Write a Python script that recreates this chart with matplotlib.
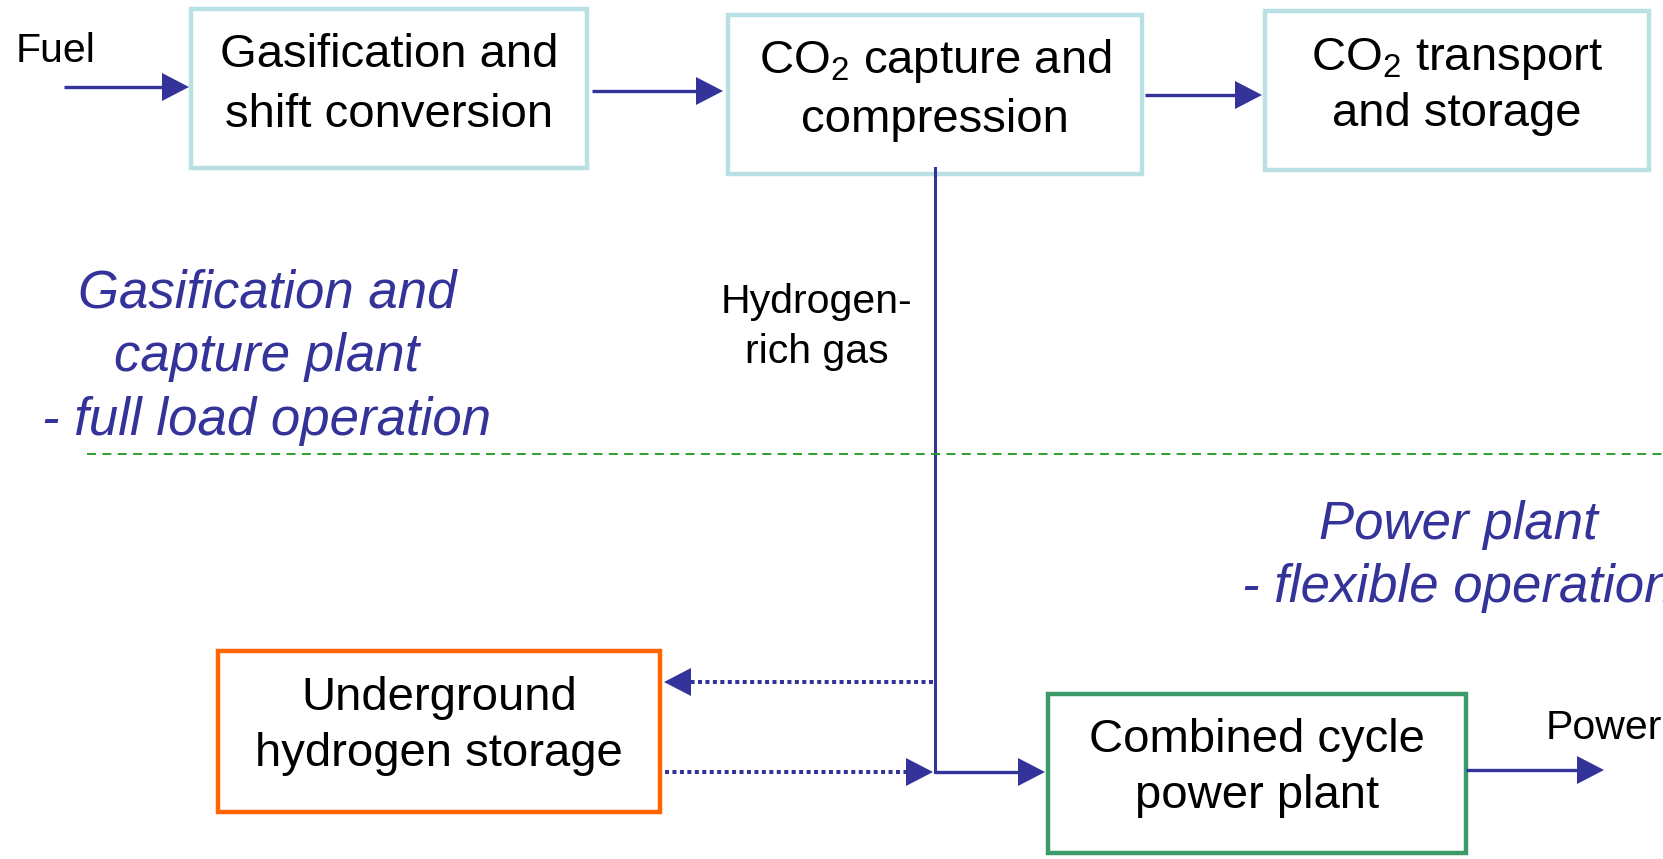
import matplotlib.pyplot as plt
from matplotlib.patches import Rectangle, Polygon

plt.rcParams['font.family'] = ['Liberation Sans', 'DejaVu Sans']
plt.rcParams['mathtext.fontset'] = 'custom'
plt.rcParams['mathtext.rm'] = 'Liberation Sans'
plt.rcParams['mathtext.it'] = 'Liberation Sans:italic'

W, H = 1663, 859
BLUE = '#333399'

# Process boxes: labels, outline colour
box_labels = [
    ["Gasification and", "shift conversion"],
    ["CO$_2$ capture and", "compression"],
    ["CO$_2$ transport", "and storage"],
    ["Underground", "hydrogen storage"],
    ["Combined cycle", "power plant"],
]
box_colors = ['#b9e0e2', '#b9e0e2', '#b9e0e2', '#ff6600', '#3a9a68']

# Box extents in pixels (left, top, right, bottom)
box_rects = [
    (191, 9, 587, 168),
    (728, 15, 1142, 174),
    (1265, 11, 1649, 170),
    (218, 651, 660, 812),
    (1048, 694, 1466, 853),
]
# Baselines of the two text lines in each box
box_baselines = [(67, 127), (73, 132), (70, 126), (710, 766), (752, 808)]

fig = plt.figure(figsize=(W / 100, H / 100), dpi=100)
ax = fig.add_axes([0, 0, 1, 1])
ax.set_xlim(0, W)
ax.set_ylim(H, 0)
ax.axis('off')


def arrow(x0, y0, x1, y1, ls='-', lw=2.4):
    # straight arrow with a filled triangular head at (x1, y1)
    L, hw = 27, 14
    dx, dy = x1 - x0, y1 - y0
    n = (dx ** 2 + dy ** 2) ** 0.5
    ux, uy = dx / n, dy / n
    bx, by = x1 - ux * L, y1 - uy * L
    ax.plot([x0, bx], [y0, by], color=BLUE, lw=lw, ls=ls, solid_capstyle='butt')
    ax.add_patch(Polygon([(x1, y1), (bx - uy * hw, by + ux * hw), (bx + uy * hw, by - ux * hw)],
                         closed=True, color=BLUE, lw=0))


for (l, t, r, b), col, lines, bls in zip(box_rects, box_colors, box_labels, box_baselines):
    ax.add_patch(Rectangle((l, t), r - l, b - t, fill=False, ec=col, lw=3.2))
    cx = (l + r) / 2
    for s, yb in zip(lines, bls):
        ax.text(cx, yb, s, ha='center', va='baseline', fontsize=34, color='black')

# flows
arrow(64, 87, 189, 87)
arrow(592, 91, 723, 91)
arrow(1145, 95, 1262, 95)
ax.plot([935, 935], [168, 772], color=BLUE, lw=2.2)
arrow(935, 772, 1045, 772)
arrow(933, 682, 664, 682, ls=(0, (1, 0.85)), lw=2.9)
arrow(665, 772, 933, 772, ls=(0, (1, 0.85)), lw=2.9)
arrow(1466, 770, 1604, 770)

# divider
ax.plot([87, W], [454, 454], color='#1a9a1a', lw=1.3, ls=(0, (5, 3.5)))

# labels
ax.text(16, 62, "Fuel", fontsize=29.5, va='baseline', ha='left')
ax.text(1546, 739, "Power", fontsize=29.5, va='baseline', ha='left')
ax.text(817, 313, "Hydrogen-", fontsize=29.5, va='baseline', ha='center')
ax.text(817, 363, "rich gas", fontsize=29.5, va='baseline', ha='center')

left_region = ["Gasification and", "capture plant", "- full load operation"]
left_baselines = [308, 371, 435]
for s, yb in zip(left_region, left_baselines):
    ax.text(267, yb, s, fontsize=38, style='italic', color=BLUE, ha='center', va='baseline')

right_region = ["Power plant", "- flexible operation"]
right_baselines = [539, 602]
for s, yb in zip(right_region, right_baselines):
    ax.text(1458, yb, s, fontsize=38, style='italic', color=BLUE, ha='center', va='baseline')

fig.savefig('out.png', dpi=100)
